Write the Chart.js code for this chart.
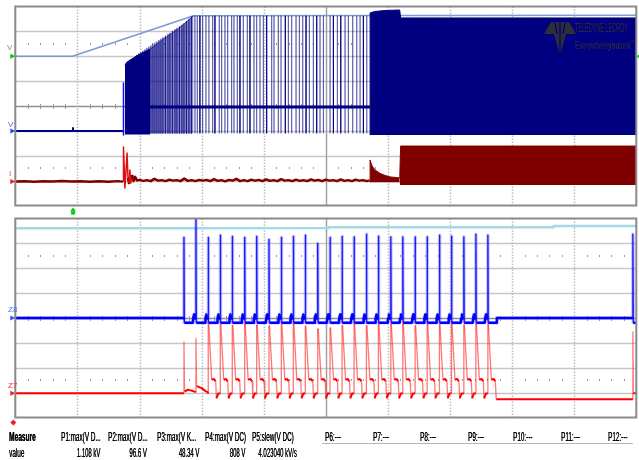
<!DOCTYPE html>
<html>
<head>
<meta charset="utf-8">
<script src="https://cdn.jsdelivr.net/npm/chart.js@4.4.1/dist/chart.umd.min.js"></script>
<style>
  html, body { margin: 0; padding: 0; background: #fff; }
  #wrap { position: relative; width: 639px; height: 460px; overflow: hidden;
          font-family: "Liberation Sans", Arial, sans-serif; }
  canvas { position: absolute; left: 0; top: 0; }
  .t { position: absolute; white-space: nowrap; font-size: 12px; line-height: 12px; color: #000; z-index: 3;
       transform: scaleX(0.53); transform-origin: 0 0; text-shadow: 0.4px 0 0 #000; }
  .r { transform-origin: 100% 0; transform: scaleX(0.5); }
  .lab { position: absolute; font-size: 8px; line-height: 8px; z-index: 3; }
  #logo { position: absolute; left: 543px; top: 21px; z-index: 3; }
  .lg1 { position: absolute; left: 575px; top: 22px; font-size: 13px; line-height: 12px; color: #2e2e36; z-index: 3;
         white-space: nowrap; transform: scaleX(0.42); transform-origin: 0 0; }
  .lg2 { position: absolute; left: 575px; top: 37px; font-size: 11px; line-height: 11px; color: #2e2e36; z-index: 3;
         white-space: nowrap; transform: scaleX(0.57); transform-origin: 0 0; }
  #sep { position: absolute; left: 322px; top: 443px; width: 311px; height: 1px; background: #b5b5b5; z-index: 3; }
</style>
</head>
<body>
<div id="wrap">
  <canvas id="scopeTop" width="639" height="460"></canvas>
  <canvas id="scopeBottom" width="639" height="460"></canvas>

  <svg id="logo" width="34" height="32" viewBox="0 0 34 32">
    <path d="M1 13 L8 1 L26 1 L33 13 Z" fill="#2e2e36"/>
    <path d="M11 13 L23 13 L18 31 L16 31 Z" fill="#2e2e36"/>
    <path d="M12 1 L14 13 M17 1 L17 31 M22 1 L20 13" stroke="#000080" stroke-width="1.2"/>
  </svg>
  <div class="lg1">TELEDYNE LECROY</div>
  <div class="lg2">Everywhere<b>you</b>look<sup style="font-size:6px">™</sup></div>

  <div class="lab" style="left:7px;top:44px;color:#55b055">V</div>
  <div class="lab" style="left:8px;top:121px;color:#4a66f0">V</div>
  <div class="lab" style="left:9px;top:170px;color:#e05050">I</div>
  <div class="lab" style="left:8px;top:306px;color:#3a7cff">Z8</div>
  <div class="lab" style="left:8px;top:382px;color:#ff3030">Z7</div>

  <div class="t" style="left:9px;top:431px;font-weight:bold;transform:scaleX(0.55)">Measure</div>
  <div class="t" style="left:61px;top:431px">P1:max(V D...</div>
  <div class="t" style="left:108px;top:431px">P2:max(V D...</div>
  <div class="t" style="left:157px;top:431px">P3:max(V K...</div>
  <div class="t" style="left:205px;top:431px">P4:max(V DC)</div>
  <div class="t" style="left:252px;top:431px">P5:slew(V DC)</div>
  <div class="t" style="left:325px;top:431px">P6:---</div>
  <div class="t" style="left:373px;top:431px">P7:---</div>
  <div class="t" style="left:420px;top:431px">P8:---</div>
  <div class="t" style="left:468px;top:431px">P9:---</div>
  <div class="t" style="left:513px;top:431px">P10:---</div>
  <div class="t" style="left:561px;top:431px">P11:---</div>
  <div class="t" style="left:608px;top:431px">P12:---</div>
  <div id="sep"></div>
  <div class="t" style="left:9px;top:447px">value</div>
  <div class="t r" style="right:539px;top:447px">1.108 kV</div>
  <div class="t r" style="right:492px;top:447px">96.6 V</div>
  <div class="t r" style="right:440px;top:447px">48.34 V</div>
  <div class="t r" style="right:394px;top:447px">808 V</div>
  <div class="t r" style="right:342px;top:447px">4.023040 kV/s</div>
</div>

<script>
// ---- Screen units: 10 horizontal divisions, 8 vertical divisions (-4..4) per grid ----

// Upper grid, light trace (ramp then plateau)
const rampX = [0, 0.92, 2.87, 10];
const rampY = [2.0, 2.0, 3.63, 3.65];

// Upper grid, navy trace: baseline before the burst (with the small mark at the trigger)
const navyBaseX = [0, 0.93, 0.93, 0.93, 1.74];
const navyBaseY = [-1.0, -1.0, -0.88, -1.0, -1.0];
const navyEdgeX = [1.742, 1.742];
const navyEdgeY = [0.92, -1.17];
const navyIdle = -0.04;
const navyLow = -1.10;

// Upper envelope of the burst start
const burstEnvX = [1.765, 1.80, 1.90, 1.98, 2.17, 2.41, 2.62, 2.87];
const burstEnvY = [1.65, 1.77, 1.93, 2.05, 2.29, 2.73, 3.10, 3.63];

// Individual switching edges while the envelope rises
const rampSpikeX = [1.958, 1.990, 2.023, 2.055, 2.087, 2.119, 2.151, 2.184, 2.216, 2.248, 2.280, 2.313, 2.345,
                    2.377, 2.417, 2.458, 2.490, 2.530, 2.571, 2.603, 2.643, 2.683, 2.716, 2.756, 2.796, 2.836];
const rampSpikeTop = [2.05, 2.10, 2.15, 2.21, 2.26, 2.32, 2.37, 2.42, 2.48, 2.53, 2.58, 2.64, 2.69,
                      2.75, 2.81, 2.88, 2.93, 3.00, 3.07, 3.12, 3.19, 3.25, 3.31, 3.40, 3.49, 3.58];

// Sparse edges on the plateau
const spikeDarkX = [2.973, 3.215, 3.618, 3.779, 4.048, 4.348, 4.682, 4.854, 5.122, 5.241, 5.605];
const spikeLightX = [2.893, 2.930, 3.017, 3.070, 3.118, 3.178, 3.284, 3.323, 3.376, 3.420, 3.484, 3.521, 3.575,
                     3.671, 3.736, 3.844, 3.887, 3.940, 3.994, 4.129, 4.166, 4.235, 4.279, 4.397, 4.451, 4.521,
                     4.574, 4.629, 4.735, 4.799, 4.907, 4.961, 5.069, 5.186, 5.310, 5.363, 5.434, 5.499, 5.552, 5.660];
const plateauTop = 3.63;

// Continuous switching block
const navyBlockX = [5.713, 5.713, 5.79, 5.955, 6.19, 6.205, 10];
const navyBlockY = [-1.17, 3.74, 3.80, 3.84, 3.86, 3.54, 3.54];
const navyBlockLow = -1.17;

// Upper grid, dark red trace
const redX = [0, 0.15, 0.3, 0.45, 0.6, 0.75, 0.9, 1.05, 1.2, 1.35, 1.5, 1.65, 1.735,
  1.742, 1.765, 1.80, 1.815, 1.83, 1.845, 1.86, 1.88, 1.905, 1.93, 1.96,
  2.00, 2.06, 2.12, 2.18, 2.24, 2.30, 2.36, 2.42, 2.48, 2.54, 2.60, 2.66, 2.72, 2.78, 2.84, 2.90, 2.96,
  3.02, 3.08, 3.14, 3.20, 3.26, 3.32, 3.38, 3.44, 3.50, 3.56, 3.62, 3.68, 3.74, 3.80, 3.86, 3.92, 3.98,
  4.04, 4.10, 4.16, 4.22, 4.28, 4.34, 4.40, 4.46, 4.52, 4.58, 4.64, 4.70, 4.76, 4.82, 4.88, 4.94,
  5.00, 5.06, 5.12, 5.18, 5.24, 5.30, 5.36, 5.42, 5.48, 5.54, 5.60, 5.66, 5.705];
const redY = [-3.04, -3.03, -3.05, -3.03, -3.04, -3.02, -3.04, -3.03, -3.05, -3.03, -3.05, -3.02, -3.04,
  -1.65, -3.30, -1.89, -2.90, -3.10, -2.57, -3.10, -2.77, -3.02, -2.85, -2.99,
  -2.97, -3.01, -2.98, -3.02, -2.93, -3.00, -2.98, -3.02, -2.96, -3.00, -2.98, -3.02, -2.92, -3.01, -2.98, -3.02, -2.97,
  -3.00, -2.97, -3.02, -2.94, -3.01, -2.98, -3.03, -2.97, -3.00, -2.93, -3.02, -2.98, -3.02, -2.96, -3.00, -2.97, -3.02,
  -2.95, -3.01, -2.98, -3.02, -2.94, -3.00, -2.98, -3.02, -2.96, -3.01, -2.98, -3.02, -2.95, -3.00, -2.97, -3.02,
  -2.96, -3.00, -2.98, -3.02, -2.95, -3.01, -2.98, -3.02, -2.96, -3.00, -2.98, -3.02, -2.99];
const redDecayX = [5.713, 5.713, 5.745, 5.793, 5.874, 5.955, 6.035, 6.116, 6.19];
const redDecayY = [-3.07, -2.17, -2.41, -2.57, -2.71, -2.79, -2.85, -2.87, -2.89];
const redDecayLow = -3.07;
const redBlockX = [6.19, 6.205, 10];
const redBlockY = [-2.89, -1.61, -1.61];
const redBlockLow = -3.18;

// Lower grid, cyan trace
const cyanX = [0, 2.71, 5.04, 5.05, 8.66, 8.67, 10];
const cyanY = [3.61, 3.61, 3.62, 3.65, 3.65, 3.70, 3.70];

// Lower grid: pulse times and pulse heights for Z8 and Z7
const pulseT = [2.716, 2.909, 3.107, 3.301, 3.494, 3.694, 3.887, 4.085, 4.284, 4.477, 4.670, 4.870, 5.068,
                5.262, 5.455, 5.654, 5.847, 6.047, 6.240, 6.438, 6.632, 6.830, 7.024, 7.223, 7.417, 7.610];
const z8Peak = [3.24, 3.97, 3.24, 3.33, 3.28, 3.24, 3.28, 3.16, 3.24, 3.28, 3.33, 3.00, 3.24,
                3.28, 3.26, 3.37, 3.29, 3.26, 3.26, 3.26, 3.26, 3.33, 3.29, 3.26, 3.37, 3.33];
const z7Peak = [-0.96, -0.82, -0.22, -0.24, -0.28, -0.24, -0.28, -0.31, -0.24, -0.22, -0.31, -0.44, -0.38,
                -0.28, -0.22, -0.29, -0.22, -0.25, -0.22, -0.29, -0.22, -0.25, -0.22, -0.29, -0.22, -0.25];

// Z8 shape around each pulse (offset from pulse time, level; null = that pulse's peak)
const z8ShapeDt = [-0.05, -0.045, -0.03, -0.02, 0, 0, 0.006];
const z8ShapeLv = [-0.19, -0.02, 0.14, -0.02, -0.02, null, -0.19];
const z8LeadX = [0, 2.716];
const z8LeadY = [0.0, 0.0];
const z8TailX = [7.64, 7.745, 7.755, 9.945, 9.945, 9.952, 10];
const z8TailY = [-0.19, -0.19, 0.0, 0.0, 3.37, -0.19, -0.19];

// Z7 shape after each pulse (offset from pulse time, level; null = that pulse's peak)
const z7ShapeDt = [0, 0, 0.008, 0.056, 0.09, 0.12, 0.132, 0.16];
const z7ShapeLv = [-3.04, null, null, -2.49, -2.45, -2.55, -3.23, -3.04];
const z7LeadX = [0, 2.716, 2.716, 2.726, 2.78, 2.85, 2.909, 2.909, 2.919, 3.0, 3.07, 3.10];
const z7LeadY = [-3.03, -3.03, -0.96, -2.96, -2.88, -2.93, -2.98, -0.82, -2.74, -2.82, -2.95, -2.98];
const z7TailX = [7.745, 9.945, 9.945, 9.952, 10];
const z7TailY = [-3.27, -3.27, -0.56, -3.03, -3.03];

const triggerT = 0.93;

// ---- helpers ----
const pts = (xs, ys) => xs.map((x, i) => ({ x, y: ys[i] }));

function spikeTrain(xs, tops, idle, low) {
  const out = [];
  xs.forEach((x, i) => {
    const top = Array.isArray(tops) ? tops[i] : tops;
    out.push({ x, y: idle }, { x, y: top }, { x, y: low }, { x, y: idle });
  });
  return out;
}

function buildZ8() {
  const out = pts(z8LeadX, z8LeadY);
  pulseT.forEach((t, k) => {
    z8ShapeDt.forEach((dt, j) => {
      if (k === 0 && j < 4) return;
      out.push({ x: t + dt, y: z8ShapeLv[j] === null ? z8Peak[k] : z8ShapeLv[j] });
    });
  });
  return out.concat(pts(z8TailX, z8TailY));
}

function buildZ7() {
  const out = pts(z7LeadX, z7LeadY);
  const last = pulseT.length - 1;
  pulseT.forEach((t, k) => {
    if (k < 2) return;
    const n = k === last ? 6 : z7ShapeDt.length;
    for (let j = 0; j < n; j++) {
      out.push({ x: t + z7ShapeDt[j], y: z7ShapeLv[j] === null ? z7Peak[k] : z7ShapeLv[j] });
    }
  });
  return out.concat(pts(z7TailX, z7TailY));
}

const steep = c => Math.abs(c.p1.y - c.p0.y) > 4 * Math.abs(c.p1.x - c.p0.x) + 3;

// ---- graticule drawn through the chart's own scales ----
const graticule = {
  id: 'graticule',
  beforeDatasetsDraw(chart, args, opts) {
    const { ctx, chartArea: a, scales: { x, y } } = chart;
    ctx.save();
    ctx.lineWidth = 1.5;
    for (let v = -3; v <= 3; v++) {
      const py = Math.round(y.getPixelForValue(v)) + 0.5;
      ctx.strokeStyle = v === 0 ? '#8e8e8e' : '#c6c6c6';
      ctx.beginPath(); ctx.moveTo(a.left, py); ctx.lineTo(a.right, py); ctx.stroke();
    }
    for (let d = 1; d <= 9; d++) {
      const px = Math.round(x.getPixelForValue(d)) + 0.5;
      if (d === 5) { ctx.setLineDash([]); ctx.strokeStyle = '#a0a0a0'; }
      else { ctx.setLineDash([1.5, 1.5]); ctx.strokeStyle = '#bcbcbc'; }
      ctx.beginPath(); ctx.moveTo(px, a.top); ctx.lineTo(px, a.bottom); ctx.stroke();
    }
    ctx.setLineDash([]);
    ctx.fillStyle = '#9a9a9a';
    for (let k = 1; k < 50; k++) {
      if (k % 5 === 0) continue;
      const px = Math.round(x.getPixelForValue(k * 0.2));
      const y0 = Math.round(y.getPixelForValue(0));
      ctx.fillRect(px, y0 - 2, 1, 5);
      [2.5, -2.5].forEach(v => ctx.fillRect(px, Math.round(y.getPixelForValue(v)) - 1, 1, 2));
    }
    ctx.restore();
  },
  afterDatasetsDraw(chart, args, opts) {
    const { ctx, chartArea: a, scales: { x, y } } = chart;
    ctx.save();
    ctx.strokeStyle = '#8a8a8a';
    ctx.lineWidth = 2;
    ctx.strokeRect(a.left, a.top, a.right - a.left, a.bottom - a.top);
    (opts.markers || []).forEach(m => {
      const py = y.getPixelForValue(m.level);
      ctx.fillStyle = m.color;
      ctx.beginPath();
      if (m.side === 'right') {
        ctx.moveTo(a.right + 0.5, py); ctx.lineTo(a.right + 4, py - 3); ctx.lineTo(a.right + 4, py + 3);
      } else {
        ctx.moveTo(a.left - 5, py - 2.5); ctx.lineTo(a.left, py); ctx.lineTo(a.left - 5, py + 2.5);
      }
      ctx.closePath(); ctx.fill();
    });
    if (opts.trigger !== undefined) {
      const px = x.getPixelForValue(opts.trigger);
      ctx.fillStyle = '#00cc00';
      ctx.beginPath(); ctx.moveTo(px, a.bottom + 2); ctx.lineTo(px + 3, a.bottom + 6); ctx.lineTo(px - 3, a.bottom + 6);
      ctx.closePath(); ctx.fill();
      ctx.fillRect(px - 2, a.bottom + 6, 4, 3);
    }
    if (opts.zoomMark) {
      ctx.fillStyle = '#ee2020';
      ctx.beginPath(); ctx.moveTo(a.left - 2, a.bottom + 2); ctx.lineTo(a.left + 1, a.bottom + 5); ctx.lineTo(a.left - 2, a.bottom + 8);
      ctx.lineTo(a.left - 5, a.bottom + 5); ctx.closePath(); ctx.fill();
    }
    ctx.restore();
  }
};

const baseOptions = (pad, plug) => ({
  responsive: false,
  animation: false,
  devicePixelRatio: 1,
  events: [],
  layout: { padding: pad },
  elements: { point: { radius: 0 }, line: { tension: 0, borderJoinStyle: 'round' } },
  scales: {
    x: { type: 'linear', min: 0, max: 10, display: false },
    y: { type: 'linear', min: -4, max: 4, display: false }
  },
  plugins: { legend: { display: false }, tooltip: { enabled: false }, graticule: plug }
});

const NAVY = '#000080';
const DRED = '#800000';

new Chart(document.getElementById('scopeTop'), {
  type: 'line',
  plugins: [graticule],
  data: {
    datasets: [
      { label: 'I', data: pts(redX, redY), borderColor: DRED, borderWidth: 2.5, fill: false, order: 1,
        segment: { borderColor: c => steep(c) ? '#e01010' : DRED,
                   borderWidth: c => steep(c) ? 1.5 : 2.5 } },
      { label: 'I decay', data: pts(redDecayX, redDecayY), borderColor: DRED, borderWidth: 1,
        backgroundColor: DRED, fill: { value: redDecayLow }, order: 2 },
      { label: 'I block', data: pts(redBlockX, redBlockY), borderColor: DRED, borderWidth: 1,
        backgroundColor: DRED, fill: { value: redBlockLow }, order: 2 },
      { label: 'V edge', data: pts(navyEdgeX, navyEdgeY), borderColor: '#1010ff', borderWidth: 1.5, fill: false, order: 3 },
      { label: 'V block', data: pts(navyBlockX, navyBlockY), borderColor: NAVY, borderWidth: 1,
        backgroundColor: NAVY, fill: { value: navyBlockLow }, order: 4 },
      { label: 'V dark edges', data: spikeTrain(spikeDarkX, plateauTop, navyIdle, navyLow),
        borderColor: 'rgba(0,0,128,0.95)', borderWidth: 1, fill: false, order: 5 },
      { label: 'V light edges', data: spikeTrain(spikeLightX, plateauTop, navyIdle, navyLow),
        borderColor: 'rgba(0,0,128,0.45)', borderWidth: 1, fill: false, order: 6 },
      { label: 'V ramp edges', data: spikeTrain(rampSpikeX, rampSpikeTop, navyIdle, navyLow),
        borderColor: 'rgba(0,0,128,0.8)', borderWidth: 1.2, fill: false, order: 6 },
      { label: 'V idle', data: pts([burstEnvX[0], navyBlockX[0]], [navyIdle, navyIdle]),
        borderColor: NAVY, borderWidth: 3, fill: false, order: 5 },
      { label: 'V burst', data: pts(burstEnvX.slice(0, 5), burstEnvY.slice(0, 5)), borderColor: NAVY, borderWidth: 1,
        backgroundColor: NAVY, fill: { value: navyLow - 0.05 }, order: 7 },
      { label: 'V burst haze', data: pts(burstEnvX.slice(4), burstEnvY.slice(4)), borderColor: 'rgba(0,0,128,0.6)', borderWidth: 1,
        backgroundColor: 'rgba(0,0,128,0.45)', fill: { value: navyLow }, order: 8 },
      { label: 'V base', data: pts(navyBaseX, navyBaseY), borderColor: NAVY, borderWidth: 2, fill: false, order: 7 },
      { label: 'V ramp', data: pts(rampX, rampY), borderColor: '#7a9cd0', borderWidth: 1.5, fill: false, order: 10 }
    ]
  },
  options: baseOptions({ left: 15.3, right: 2.7, top: 6.5, bottom: 254.5 }, {
    markers: [
      { level: rampY[0], color: '#00c400' },
      { level: navyBaseY[0], color: '#2a3cff' },
      { level: redY[0], color: '#f01818' },
      { level: rampY[0], color: '#00c400', side: 'right' }
    ],
    trigger: triggerT
  })
});

new Chart(document.getElementById('scopeBottom'), {
  type: 'line',
  plugins: [graticule],
  data: {
    datasets: [
      { label: 'Z7', data: buildZ7(), borderColor: '#ff0000', borderWidth: 2, fill: false, order: 1,
        segment: { borderColor: c => steep(c) ? 'rgba(255,30,30,0.6)' : '#ff0000',
                   borderWidth: c => steep(c) ? 1.3 : 2 } },
      { label: 'Z8', data: buildZ8(), borderColor: '#0000ff', borderWidth: 2.5, fill: false, order: 2,
        segment: { borderColor: c => steep(c) ? 'rgba(0,0,255,0.85)' : '#0000ff',
                   borderWidth: c => steep(c) ? 1.4 : 2.5 } },
      { label: 'Z8 halo', data: buildZ8(), borderColor: 'rgba(90,90,255,0.35)', borderWidth: 3.5, fill: false, order: 3 },
      { label: 'C', data: pts(cyanX, cyanY), borderColor: '#a3d9e8', borderWidth: 2.5, fill: false, order: 4 }
    ]
  },
  options: baseOptions({ left: 15.3, right: 2.7, top: 218.5, bottom: 42.5 }, {
    markers: [
      { level: z8LeadY[0], color: '#2a50ff' },
      { level: z7LeadY[0], color: '#ff1a1a' }
    ],
    zoomMark: true
  })
});
</script>
</body>
</html>
